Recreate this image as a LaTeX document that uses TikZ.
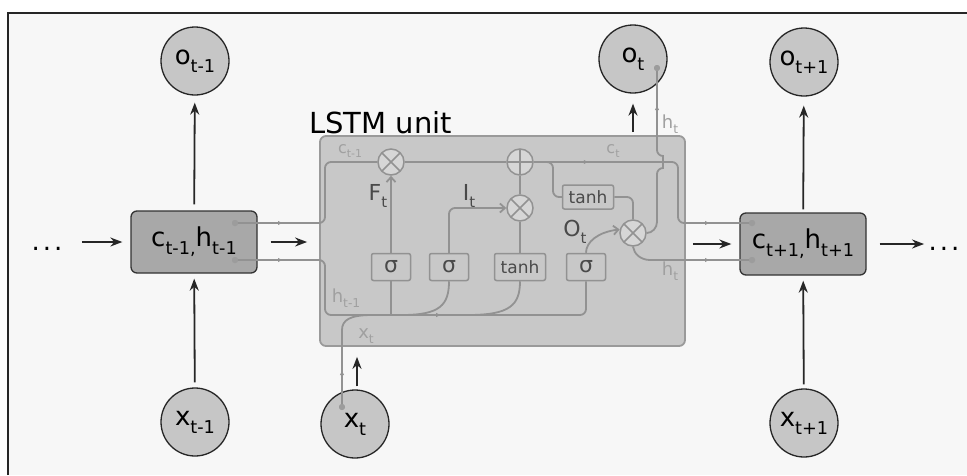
\documentclass[tikz,border=0pt]{standalone}
\usepackage{graphicx}
\usepackage{fontspec}
\setmainfont{DejaVu Sans}
\usetikzlibrary{arrows.meta,decorations.markings}
\definecolor{bgc}{HTML}{F7F7F7}
\definecolor{circf}{HTML}{C6C6C6}
\definecolor{boxf}{HTML}{A8A8A8}
\definecolor{unitf}{HTML}{C8C8C8}
\definecolor{unitd}{HTML}{9A9A9A}
\definecolor{wirec}{HTML}{929292}
\definecolor{gatef}{HTML}{D6D6D6}
\definecolor{lblc}{HTML}{A0A0A0}
\definecolor{dlbl}{HTML}{4A4A4A}
\definecolor{dotc}{HTML}{9C9C9C}
\newcommand\setfs[1]{\fontsize{#1}{#1}\selectfont}
\newcommand\lsub[1]{\raisebox{-0.3em}{\scalebox{0.68}{#1}}}
\tikzset{
  bigcirc/.style={circle, draw=black!85, line width=1.3pt, fill=circf, minimum size=68pt, inner sep=0pt, font=\setfs{26}},
  statebox/.style={rectangle, rounded corners=6pt, draw=black!80, line width=1.3pt, fill=boxf, minimum width=126pt, minimum height=62pt, inner sep=0pt, font=\setfs{26}},
  unitbox/.style={rectangle, rounded corners=6pt, draw=unitd, line width=1.8pt, fill=unitf, minimum width=365pt, minimum height=210pt, inner sep=0pt},
  barrow/.style={-{Stealth[length=12pt,width=9pt]}, line width=1.8pt, black!85},
  wire/.style={draw=wirec, line width=1.8pt, rounded corners=6pt},
  gatebox/.style={rectangle, rounded corners=2pt, draw=wirec, line width=1.5pt, fill=unitf, inner sep=0pt, minimum height=27pt, text=dlbl},
  mult/.style={circle, draw=wirec, line width=1.5pt, fill=gatef, minimum size=26pt, inner sep=0pt,
    path picture={\draw[wirec, line width=1.5pt] (path picture bounding box.north west) -- (path picture bounding box.south east) (path picture bounding box.north east) -- (path picture bounding box.south west);}},
  addg/.style={circle, draw=wirec, line width=1.5pt, fill=gatef, minimum size=26pt, inner sep=0pt,
    path picture={\draw[wirec, line width=1.5pt] (path picture bounding box.north) -- (path picture bounding box.south) (path picture bounding box.west) -- (path picture bounding box.east);}},
  wdot/.style={circle, fill=dotc, inner sep=0pt, minimum size=6pt},
  midtip/.style={postaction={decorate}, decoration={markings, mark=at position #1 with {\arrow{Latex[length=5pt,width=4.5pt]}}}},
  twotips/.style n args={2}{postaction={decorate}, decoration={markings,
     mark=at position #1 with {\arrow{Latex[length=5pt,width=4.5pt]}},
     mark=at position #2 with {\arrow{Latex[length=5pt,width=4.5pt]}}}},
  gtip/.style={-{Straight Barb[length=5pt,width=9pt]}},
  inlbl/.style={text=lblc, font=\setfs{18}, inner sep=0pt},
  gatelbl/.style={text=dlbl, font=\setfs{22}, inner sep=0pt},
}
\begin{document}
\begin{tikzpicture}[x=1pt,y=-1pt]
\useasboundingbox (0,0) rectangle (967,475);
\fill[white] (0,0) rectangle (967,475);
\fill[bgc] (8,13) rectangle (967,475);
\draw[black!85, line width=2pt] (8,475) -- (8,13) -- (967,13);

% outer nodes
\node[bigcirc] (ot1) at (195,61) {o\lsub{t-1}};
\node[statebox] (cprev) at (194,242) {c\lsub{t-1,}h\lsub{t-1}};
\node[bigcirc] (xt1) at (195,422) {x\lsub{t-1}};
\node[font=\setfs{26}] (dotsL) at (47,249) {.\hspace{3pt}.\hspace{3pt}.};

\node[unitbox] (lstm) at (502.5,241) {};
\node[anchor=base west, font=\setfs{29}, inner sep=0pt] (lstmlbl) at (309,133) {LSTM unit};

\node[bigcirc] (ot) at (633,59) {o\lsub{t}};
\node[bigcirc] (xt) at (355,424) {x\lsub{t}};

\node[bigcirc] (onext) at (804,62) {o\lsub{t+1}};
\node[statebox] (cnext) at (803,244) {c\lsub{t+1,}h\lsub{t+1}};
\node[bigcirc] (xnext) at (804,423) {x\lsub{t+1}};
\node[font=\setfs{26}] (dotsR) at (944,249) {.\hspace{3pt}.\hspace{3pt}.};

% dots (wire ends)
\node[wdot] (dc1) at (235,223) {};
\node[wdot] (dh1) at (235,260) {};
\node[wdot] (dc2) at (752,223) {};
\node[wdot] (dh2) at (752,260) {};
\node[wdot] (doh) at (657,68) {};
\node[wdot] (dxt) at (342,407) {};

% internal gates
\node[gatebox, minimum width=39pt, font=\setfs{22}] (sf) at (391,267) {σ};
\node[gatebox, minimum width=39pt, font=\setfs{22}] (si) at (449,267) {σ};
\node[gatebox, minimum width=51pt, font=\setfs{17}] (tg) at (520,267) {tanh};
\node[gatebox, minimum width=39pt, font=\setfs{22}] (so) at (586,267) {σ};
\node[gatebox, minimum width=51pt, minimum height=24pt, font=\setfs{17}] (tc) at (588,197) {tanh};

\node[mult] (gf) at (391,162) {};
\node[addg] (ga) at (520,162) {};
\node[mult] (gi) at (520,208) {};
\node[mult] (go) at (633,233) {};

% wires
\draw[wire, midtip=48pt] (dc1.center) -- (325,223) -- (325,162) -- (gf.west);
\draw[wire, twotips={48pt}{256pt}] (dh1.center) -- (325,260) -- (325,315) -- (586,315) -- (so.south);
\draw[wire, midtip=37pt] (dxt.center) -- (342,336) .. controls (342,320) and (350,315) .. (372,315);
\draw[wire] (391,315) -- (sf.south);
\draw[wire, gtip] (sf.north) -- (gf.south);
\draw[wire] (402,315) .. controls (440,315) and (449,305) .. (si.south);
\draw[wire, gtip] (si.north) -- (449,208) -- (gi.west);
\draw[wire] (468,315) .. controls (510,315) and (520,305) .. (tg.south);
\draw[wire] (tg.north) -- (gi.south);
\draw[wire] (gi.north) -- (ga.south);
\draw[wire, gtip] (so.north) .. controls (586,242) and (598,232) .. (go.165);
\draw[wire] (gf.east) -- (ga.west);
\draw[wire, twotips={55pt}{-42pt}] (ga.east) -- (678,162) -- (678,223) -- (dc2.center);
\draw[wire] (ga.east) -- (553,162) -- (553,197) -- (tc.west);
\draw[wire] (tc.east) -- (633,197) -- (go.north);
\draw[wire, midtip=-37pt] (go.east) .. controls (652,233) and (657,228) .. (657,216) -- (657,168) .. controls (663,168) and (663,156) .. (657,156) -- (doh.center);
\draw[wire, midtip=-42pt] (go.south) .. controls (634,254) and (641,260) .. (656,260) -- (dh2.center);

% redraw dots on top
\node[wdot] at (dc1) {};
\node[wdot] at (dh1) {};
\node[wdot] at (dc2) {};
\node[wdot] at (dh2) {};
\node[wdot] at (doh) {};
\node[wdot] at (dxt) {};

% internal labels
\node[inlbl, font=\setfs{16}] (lc1) at (350,151) {c\lsub{t-1}};
\node[inlbl, font=\setfs{16}] (lc2) at (613,151) {c\lsub{t}};
\node[inlbl] (lh1) at (346,298) {h\lsub{t-1}};
\node[inlbl] (lxt) at (366,336) {x\lsub{t}};
\node[inlbl] (lh2) at (670,271) {h\lsub{t}};
\node[inlbl] (lh3) at (670,124) {h\lsub{t}};
\node[gatelbl] (lF) at (378,196) {F\lsub{t}};
\node[gatelbl] (lI) at (469,196) {I\lsub{t}};
\node[gatelbl] (lO) at (575,232) {O\lsub{t}};

% black arrows
\draw[barrow, shorten <=6pt, shorten >=7pt] (cprev) -- (ot1);
\draw[barrow, shorten <=5pt, shorten >=5pt] (xt1) -- (cprev);
\draw[barrow, shorten <=16pt, shorten >=8pt] (dotsL.east |- cprev.west) -- (cprev.west);
\draw[barrow, shorten <=13pt, shorten >=12pt] (cprev.east) -- (lstm.west |- cprev.east);
\draw[barrow, shorten <=7pt, shorten >=8pt] (lstm.east |- cnext.west) -- (cnext.west);
\draw[barrow, shorten <=13pt, shorten >=1pt] (cnext.east) -- (dotsR.west |- cnext.east);
\draw[barrow, shorten <=3pt, shorten >=9pt] (cnext) -- (onext);
\draw[barrow, shorten <=4pt, shorten >=5pt] (xnext) -- (cnext);
\draw[barrow, shorten <=3pt, shorten >=10pt] (ot.south |- lstm.north) -- (ot.south);
\draw[barrow, shorten <=3pt, shorten >=10pt] ([xshift=2pt]xt.north) -- ([xshift=2pt]xt.north |- lstm.south);
\end{tikzpicture}
\end{document}
